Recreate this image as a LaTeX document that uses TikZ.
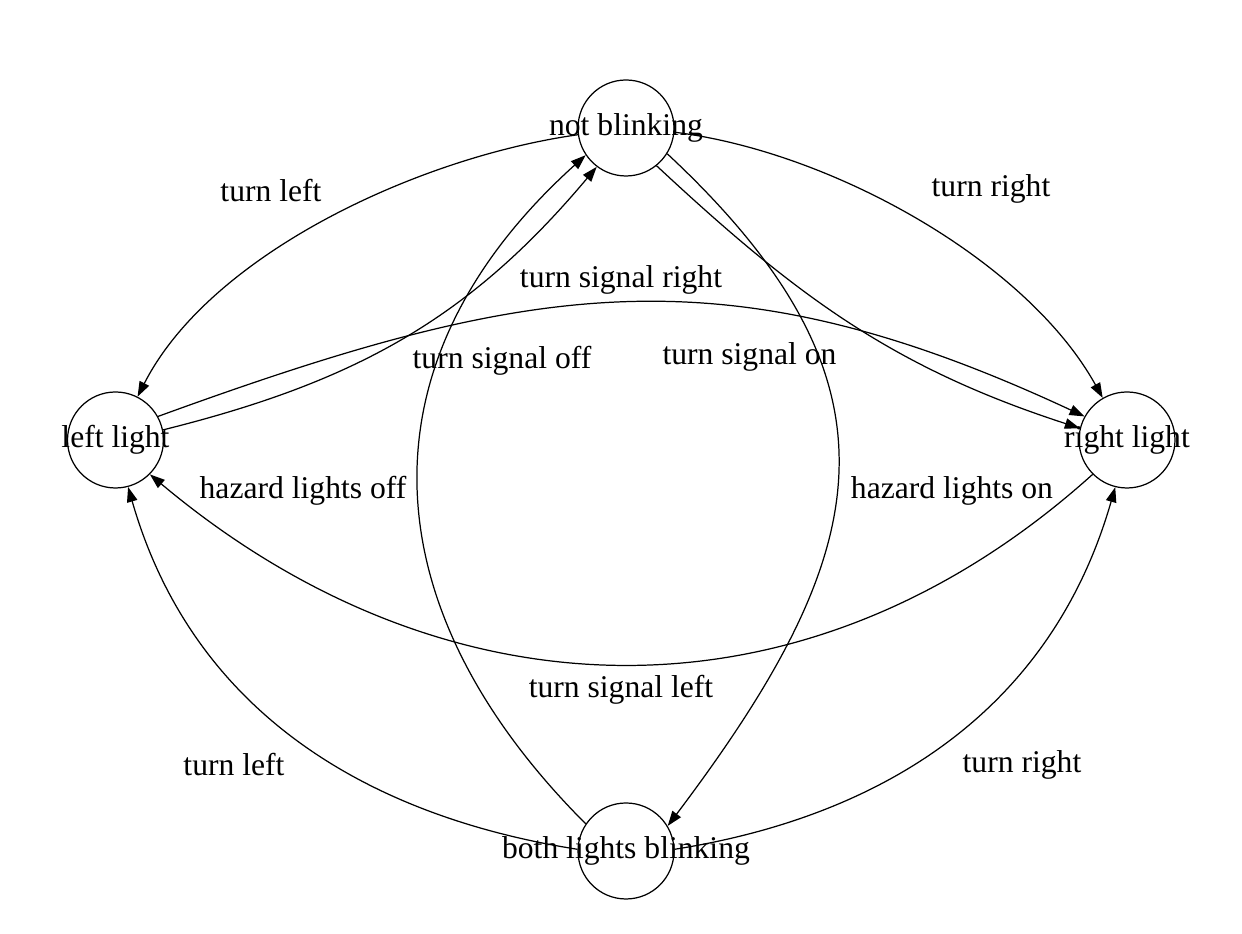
\documentclass[tikz,border=0pt]{standalone}
\usepackage{fontspec}
\setmainfont{Liberation Serif}
\usepackage{tikz}
\usetikzlibrary{arrows.meta}

\begin{document}
\begin{tikzpicture}[
  state/.style={draw, circle, line width=0.7pt, minimum size=1.92cm, inner sep=0pt},
  edge/.style={-{Triangle[length=0.3cm,width=0.21cm]}, line width=0.7pt},
  lbl/.style={anchor=base, inner sep=0pt},
  font=\fontsize{18}{21.6}\selectfont]

\useasboundingbox (0,0) rectangle (24.84,18.68);

\node[state] (nb) at (12.52,16.12) {\makebox[0pt]{not blinking}};
\node[state] (ll) at (2.31,9.88) {\makebox[0pt]{left light}};
\node[state] (rl) at (22.54,9.88) {\makebox[0pt]{right light}};
\node[state] (bl) at (12.52,1.66) {\makebox[0pt]{both lights blinking}};

\draw[edge] (nb.188) to[out=188, in=63, looseness=0.8] (ll.63);
\draw[edge] (nb.-5) to[out=-7, in=119, looseness=0.8] (rl.120);
\draw[edge] (ll.29) to[out=20, in=155, looseness=1.1] (rl.151);
\draw[edge] (rl.225) to[out=222, in=320, looseness=1.05] (ll.315);
\draw[edge] (ll.12) to[out=14, in=230] (nb.233);
\draw[edge] (nb.-51) to[out=-43, in=162] (rl.166);
\draw[edge] (bl.146) to[out=135, in=222, looseness=1.18] (nb.214);
\draw[edge] (nb.-32) to[out=-43, in=53, looseness=1.3] (bl.31);
\draw[edge] (bl.178) to[out=171, in=286] (ll.285);
\draw[edge] (bl.2) to[out=9, in=254] (rl.256);

\node[lbl] (tlTop) at (5.42,14.64) {turn left};
\node[lbl] (trTop) at (19.82,14.75) {turn right};
\node[lbl] (tsRight) at (12.42,12.92) {turn signal right};
\node[lbl] (tsOff) at (10.04,11.31) {turn signal off};
\node[lbl] (tsOn) at (14.99,11.38) {turn signal on};
\node[lbl] (hlOff) at (6.06,8.71) {hazard lights off};
\node[lbl] (hlOn) at (19.04,8.71) {hazard lights on};
\node[lbl] (tsLeft) at (12.42,4.72) {turn signal left};
\node[lbl] (tlBot) at (4.68,3.16) {turn left};
\node[lbl] (trBot) at (20.44,3.22) {turn right};

\end{tikzpicture}
\end{document}
